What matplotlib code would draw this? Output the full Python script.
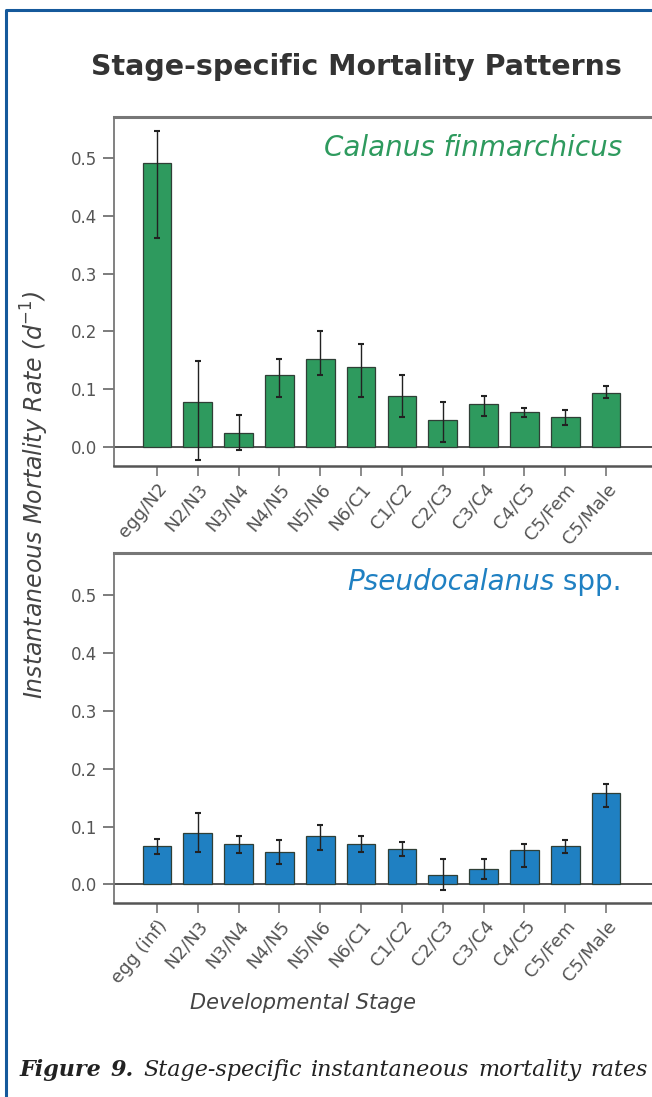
import numpy as np
import matplotlib
matplotlib.use("Agg")
import matplotlib.pyplot as plt
from matplotlib.lines import Line2D

# stage transitions for each species
stades_calanus = ["egg/N2", "N2/N3", "N3/N4", "N4/N5", "N5/N6", "N6/C1",
                  "C1/C2", "C2/C3", "C3/C4", "C4/C5", "C5/Fem", "C5/Male"]
stades_pseudo = ["egg (inf)", "N2/N3", "N3/N4", "N4/N5", "N5/N6", "N6/C1",
                 "C1/C2", "C2/C3", "C3/C4", "C4/C5", "C5/Fem", "C5/Male"]

# mortality rates (d-1) with lower / upper error bounds
taux_calanus = [0.492, 0.077, 0.024, 0.125, 0.152, 0.138,
                0.088, 0.046, 0.074, 0.060, 0.052, 0.093]
bas_calanus = [0.362, -0.022, -0.005, 0.086, 0.125, 0.087,
               0.052, 0.009, 0.054, 0.051, 0.038, 0.084]
haut_calanus = [0.547, 0.148, 0.055, 0.152, 0.200, 0.178,
                0.125, 0.077, 0.089, 0.068, 0.064, 0.106]

taux_pseudo = [0.066, 0.089, 0.070, 0.056, 0.083, 0.070,
               0.062, 0.016, 0.027, 0.059, 0.066, 0.158]
bas_pseudo = [0.053, 0.056, 0.054, 0.036, 0.060, 0.056,
              0.050, -0.009, 0.010, 0.031, 0.054, 0.134]
haut_pseudo = [0.078, 0.124, 0.083, 0.077, 0.103, 0.083,
               0.073, 0.044, 0.044, 0.070, 0.077, 0.174]

VERT = "#2e9a5e"
BLEU = "#1f80c2"
GRIS = "#555555"
POLICE = "DejaVu Sans"

plt.rcParams["font.family"] = POLICE

W, H = 652, 1097
fig = plt.figure(figsize=(W / 100, H / 100), dpi=100)


def px(x0, y_top, x1, y_bot):
    """Position d'un axe en pixels -> fractions de figure."""
    return [x0 / W, 1 - y_bot / H, (x1 - x0) / W, (y_bot - y_top) / H]


def tracer_panneau(ax, stades, taux, bas, haut, couleur, ylim):
    x = np.arange(len(stades))
    taux = np.array(taux)
    err = [taux - np.array(bas), np.array(haut) - taux]
    ax.axhline(0, color="#444444", lw=1.3, zorder=1)
    ax.bar(x, taux, width=0.7, color=couleur, edgecolor="#2f3f36",
           linewidth=0.9, zorder=2)
    ax.errorbar(x, taux, yerr=err, fmt="none", ecolor="#222222",
                elinewidth=1.0, capsize=2.5, capthick=1.5, zorder=3)
    ax.set_xlim(-1.05, 12.32)
    ax.set_ylim(*ylim)
    ax.set_yticks([0.0, 0.1, 0.2, 0.3, 0.4, 0.5])
    ax.set_yticklabels(["0.0", "0.1", "0.2", "0.3", "0.4", "0.5"])
    ax.set_xticks(x)
    ax.set_xticklabels(stades, rotation=50, ha="right", va="top",
                       rotation_mode="anchor", fontsize=13, color=GRIS)
    ax.tick_params(axis="y", direction="out", length=8, width=1.2,
                   colors="#666666", labelcolor=GRIS, labelsize=12, pad=4)
    ax.tick_params(axis="x", direction="out", length=7, width=1.2,
                   colors="#777777", labelcolor=GRIS, pad=3)
    ax.spines["right"].set_visible(False)
    ax.spines["top"].set_color("#777777")
    ax.spines["top"].set_linewidth(2.2)
    ax.spines["left"].set_color("#777777")
    ax.spines["left"].set_linewidth(1.3)
    ax.spines["bottom"].set_color("#555555")
    ax.spines["bottom"].set_linewidth(1.8)


# panneau Calanus
ax1 = fig.add_axes(px(114, 117, 660, 466))
tracer_panneau(ax1, stades_calanus, taux_calanus, bas_calanus, haut_calanus,
               VERT, (-0.033, 0.571))
ax1.text(0.93, 0.91, "Calanus finmarchicus", transform=ax1.transAxes,
         ha="right", va="center", fontsize=20, style="italic", color=VERT)

# panneau Pseudocalanus
ax2 = fig.add_axes(px(114, 553, 660, 903))
tracer_panneau(ax2, stades_pseudo, taux_pseudo, bas_pseudo, haut_pseudo,
               BLEU, (-0.032, 0.573))
spp = ax2.text(0.93, 0.917, " spp.", transform=ax2.transAxes,
               ha="right", va="center", fontsize=20, color=BLEU)
ax2.annotate("Pseudocalanus", xy=(0, 0.5), xycoords=spp, ha="right",
             va="center", fontsize=20, style="italic", color=BLEU)

# titres et labels communs
fig.text(356 / W, 1 - 67 / H, "Stage-specific Mortality Patterns",
         ha="center", va="center", fontsize=20.5, fontweight="bold",
         color="#333333")
fig.text(35 / W, 1 - 495 / H, "Instantaneous Mortality Rate (d$^{-1}$)",
         rotation=90, ha="center", va="center", fontsize=17,
         style="italic", color="#444444")
fig.text(303 / W, 1 - 1003 / H, "Developmental Stage", ha="center",
         va="center", fontsize=15, style="italic", color="#444444")

# cadre bleu de la figure
fig.add_artist(Line2D([6 / W, 6 / W, 1.0], [0.0, 1 - 10 / H, 1 - 10 / H],
                      transform=fig.transFigure, color="#15599b", lw=2.2))

# legende justifiee sur toute la largeur
mots = [("Figure", "bold"), ("9.", "bold"), ("Stage-specific", "normal"),
        ("instantaneous", "normal"), ("mortality", "normal"), ("rates", "normal")]
rendu = fig.canvas.get_renderer()
textes = []
for mot, poids in mots:
    t = fig.text(0, 1 - 1070 / H, mot, ha="left", va="center", fontsize=16,
                 family="DejaVu Serif", style="italic", fontweight=poids,
                 color="#222222")
    textes.append(t)
largeurs = [t.get_window_extent(rendu).width for t in textes]
x_g, x_d = 20.0, 648.0
ecart = (x_d - x_g - sum(largeurs)) / (len(textes) - 1)
pos = x_g
for t, w in zip(textes, largeurs):
    t.set_x(pos / W)
    pos += w + ecart

fig.savefig("out.png", dpi=100, facecolor="white")
